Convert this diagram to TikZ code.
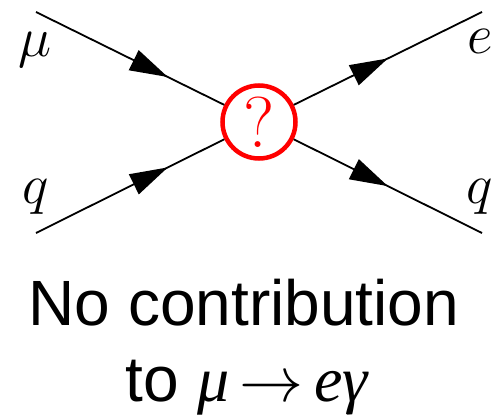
\RequirePackage{fix-cm}
\documentclass[tikz,border=0pt]{standalone}
\usepackage[no-math]{fontspec}
\usepackage{tikz}
\usetikzlibrary{arrows.meta,decorations.markings}
\newfontfamily\arialfont{Liberation Sans}
\newfontfamily\timesfont{Liberation Serif}

\begin{document}
\begin{tikzpicture}[x=1pt,y=-1pt,
  fermion/.style={line width=1.8pt,postaction={decorate},decoration={markings,
    mark=at position #1 with {\arrow{Triangle[length=38pt,width=22pt]}}}},
  lbl/.style={anchor=base,font=\fontsize{56}{60}\selectfont},
  blob/.style={circle,draw=red,line width=4.5pt,fill=white,minimum size=73pt,
    inner sep=0pt,text=red,font=\fontsize{72}{76}\selectfont},
  caption/.style={anchor=base,font=\arialfont\fontsize{64}{70}\selectfont}]
  \useasboundingbox (0,0) rectangle (493,415);

  % vertex
  \node[blob] (vtx) at (259,122) {?};

  % external legs
  \coordinate (mu)   at (36,12);
  \coordinate (qin)  at (36,233);
  \coordinate (e)    at (482,12);
  \coordinate (qout) at (482,233);
  \draw[fermion=0.7] (mu) -- (vtx);
  \draw[fermion=0.7] (qin) -- (vtx);
  \draw[fermion=0.5] (vtx) -- (e);
  \draw[fermion=0.5] (vtx) -- (qout);

  \node[lbl] (mulbl)   at (35,56)  {$\mu$};
  \node[lbl] (qinlbl)  at (36,203) {$q$};
  \node[lbl] (elbl)    at (480,53) {$e$};
  \node[lbl] (qoutlbl) at (480,203) {$q$};

  % caption
  \node[caption] (line1) at (244,325) {No contribution};
  \node[caption] (line2) at (247,401)
    {to {\timesfont\itshape μ}\,$\rightarrow$\,{\timesfont\itshape eγ}};
\end{tikzpicture}
\end{document}
